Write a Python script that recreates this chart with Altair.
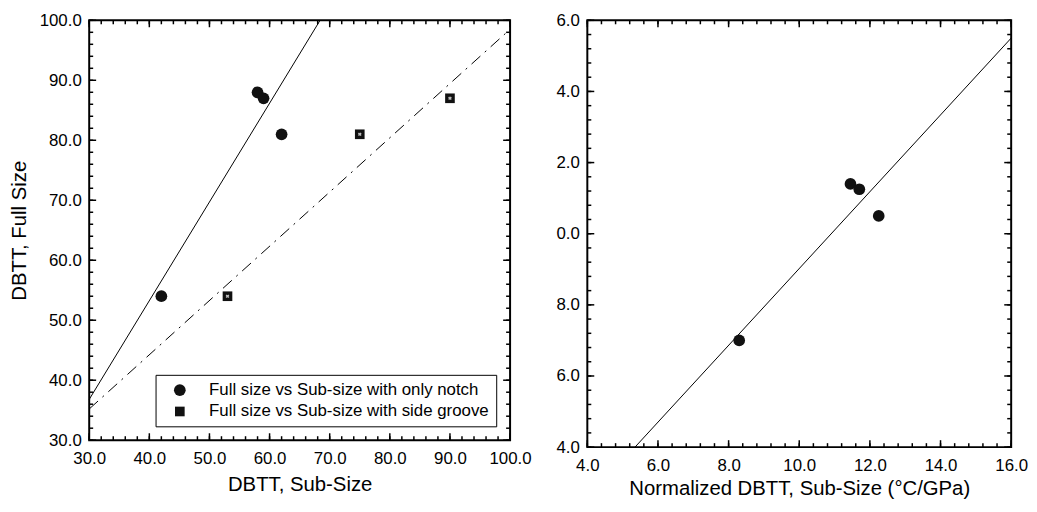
import altair as alt
import pandas as pd

FONT = "Liberation Sans"

# ---------------- Left panel data ----------------
series_names = ["Full size vs Sub-size with only notch",
                "Full size vs Sub-size with side groove"]
notch_sub = [42.0, 58.0, 59.0, 62.0]
notch_full = [54.0, 88.0, 87.0, 81.0]
groove_sub = [53.0, 75.0, 90.0]
groove_full = [54.0, 81.0, 87.0]
fit_notch_x = [30.0, 68.4]
fit_notch_y = [36.8, 100.0]
fit_groove_x = [30.0, 100.0]
fit_groove_y = [35.2, 98.5]

# ---------------- Right panel data ----------------
norm_sub = [8.3, 11.45, 11.7, 12.25]
norm_full = [17.0, 21.4, 21.25, 20.5]
fit_norm_x = [5.35, 16.0]
fit_norm_y = [14.0, 25.5]

# ---------------- Tick positions ----------------
left_major = [30, 40, 50, 60, 70, 80, 90, 100]
left_minor = [30 + 2 * i for i in range(36)]
right_x_major = [4, 6, 8, 10, 12, 14, 16]
right_x_minor = [round(4 + 0.4 * i, 1) for i in range(31)]
right_y_major = [14, 16, 18, 20, 22, 24, 26]
right_y_minor = [round(14 + 0.4 * i, 1) for i in range(31)]

MAJOR_LEN = 7
MINOR_LEN = 4


def label_axis(orient, values, title=None, label_expr=None, label_pad=8, title_pad=8):
    kw = dict(orient=orient, values=values, format=".1f", ticks=False, tickSize=0,
              domain=False, grid=False, labelPadding=label_pad, labelFont=FONT,
              labelFontSize=17, labelColor="black", labelFlush=False, labelOverlap=False,
              titleFont=FONT, titleFontSize=20.5, titleFontWeight="normal",
              titleColor="black", titlePadding=title_pad, title=title)
    if label_expr:
        kw["labelExpr"] = label_expr
    return alt.Axis(**kw)


def sx(dom):
    return alt.Scale(domain=dom, nice=False, zero=False)


def tick_layers(xdom, ydom, xmaj, xmin, ymaj, ymin):
    """Inward box ticks on all four sides, positioned through the panel's scales."""
    layers = []
    for vals, ln in ((xmin, MINOR_LEN), (xmaj, MAJOR_LEN)):
        d = pd.DataFrame({"v": vals})
        for edge, off in ((ydom[0], -ln), (ydom[1], ln)):
            layers.append(alt.Chart(d).mark_rule(color="black", strokeWidth=1.5, y2Offset=off).encode(
                x=alt.X("v:Q", scale=sx(xdom), axis=None),
                y=alt.Y(datum=edge, scale=sx(ydom), axis=None),
                y2=alt.datum(edge),
            ))
    for vals, ln in ((ymin, MINOR_LEN), (ymaj, MAJOR_LEN)):
        d = pd.DataFrame({"v": vals})
        for edge, off in ((xdom[0], ln), (xdom[1], -ln)):
            layers.append(alt.Chart(d).mark_rule(color="black", strokeWidth=1.5, x2Offset=off).encode(
                y=alt.Y("v:Q", scale=sx(ydom), axis=None),
                x=alt.X(datum=edge, scale=sx(xdom), axis=None),
                x2=alt.datum(edge),
            ))
    return layers


def enc(xdom, ydom, xaxis=None, yaxis=None):
    return dict(
        x=alt.X("x:Q", scale=sx(xdom), axis=xaxis),
        y=alt.Y("y:Q", scale=sx(ydom), axis=yaxis),
    )


# ---------------- Left panel ----------------
LX = [30, 100]
LY = [30, 100]
df_fit_notch = pd.DataFrame({"x": fit_notch_x, "y": fit_notch_y})
df_fit_groove = pd.DataFrame({"x": fit_groove_x, "y": fit_groove_y})
df_pts = pd.DataFrame({
    "x": notch_sub + groove_sub,
    "y": notch_full + groove_full,
    "series": [series_names[0]] * len(notch_sub) + [series_names[1]] * len(groove_sub),
})
df_groove = pd.DataFrame({"x": groove_sub, "y": groove_full})

legend_kw = dict(orient="none", legendX=67, legendY=358, title=None, labelFont=FONT,
                 labelFontSize=17, labelColor="black", labelLimit=500,
                 strokeColor="black", fillColor="white", padding=7, symbolOffset=9,
                 labelOffset=21, rowPadding=2.5)

l1 = alt.Chart(df_fit_notch).mark_line(color="black", strokeWidth=1).encode(
    **enc(LX, LY, label_axis("bottom", left_major, "DBTT, Sub-Size", label_pad=11),
          label_axis("left", left_major, "DBTT, Full Size", title_pad=10)))
l2 = alt.Chart(df_fit_groove).mark_line(color="black", strokeWidth=1,
                                        strokeDash=[12, 6, 2, 6]).encode(**enc(LX, LY))
l3 = alt.Chart(df_pts).mark_point(filled=True, color="#111111", opacity=1).encode(
    **enc(LX, LY),
    shape=alt.Shape("series:N", scale=alt.Scale(domain=series_names, range=["circle", "square"]),
                    legend=alt.Legend(**legend_kw)),
    size=alt.Size("series:N", scale=alt.Scale(domain=series_names, range=[140, 95]),
                  legend=alt.Legend(**legend_kw)),
)
l4 = alt.Chart(df_groove).mark_point(shape="cross", angle=45, size=14, filled=True,
                                     color="#bdbdbd", opacity=1).encode(**enc(LX, LY))

left = alt.layer(
    l1, l2, *tick_layers(LX, LY, left_major, left_minor, left_major, left_minor), l3, l4
).resolve_axis(x="independent", y="independent").properties(width=425, height=424)

# ---------------- Right panel ----------------
RX = [4, 16]
RY = [14, 26]
df_fit_norm = pd.DataFrame({"x": fit_norm_x, "y": fit_norm_y})
df_norm = pd.DataFrame({"x": norm_sub, "y": norm_full})

r1 = alt.Chart(df_fit_norm).mark_line(color="black", strokeWidth=1).encode(
    **enc(RX, RY, label_axis("bottom", right_x_major, "Normalized DBTT, Sub-Size (\u00b0C/GPa)",
                             label_pad=11, title_pad=5),
          label_axis("left", right_y_major, None,
                     label_expr="format(datum.value % 10, '.1f')")))
r2 = alt.Chart(df_norm).mark_point(filled=True, color="#111111", size=140, opacity=1,
                                   shape="circle").encode(**enc(RX, RY))

right = alt.layer(
    r1, *tick_layers(RX, RY, right_x_major, right_x_minor, right_y_major, right_y_minor), r2
).resolve_axis(x="independent", y="independent").properties(width=428, height=431)

chart = alt.hconcat(left, right, spacing=22).resolve_scale(
    shape="independent", size="independent"
).properties(
    padding={"left": 0, "top": 0, "right": 0, "bottom": 0},
    background="white",
).configure(font=FONT).configure_view(
    stroke="black", strokeWidth=2
).configure_legend(strokeWidth=1)

chart.save("out.html", embed_options={"renderer": "svg", "actions": False})
